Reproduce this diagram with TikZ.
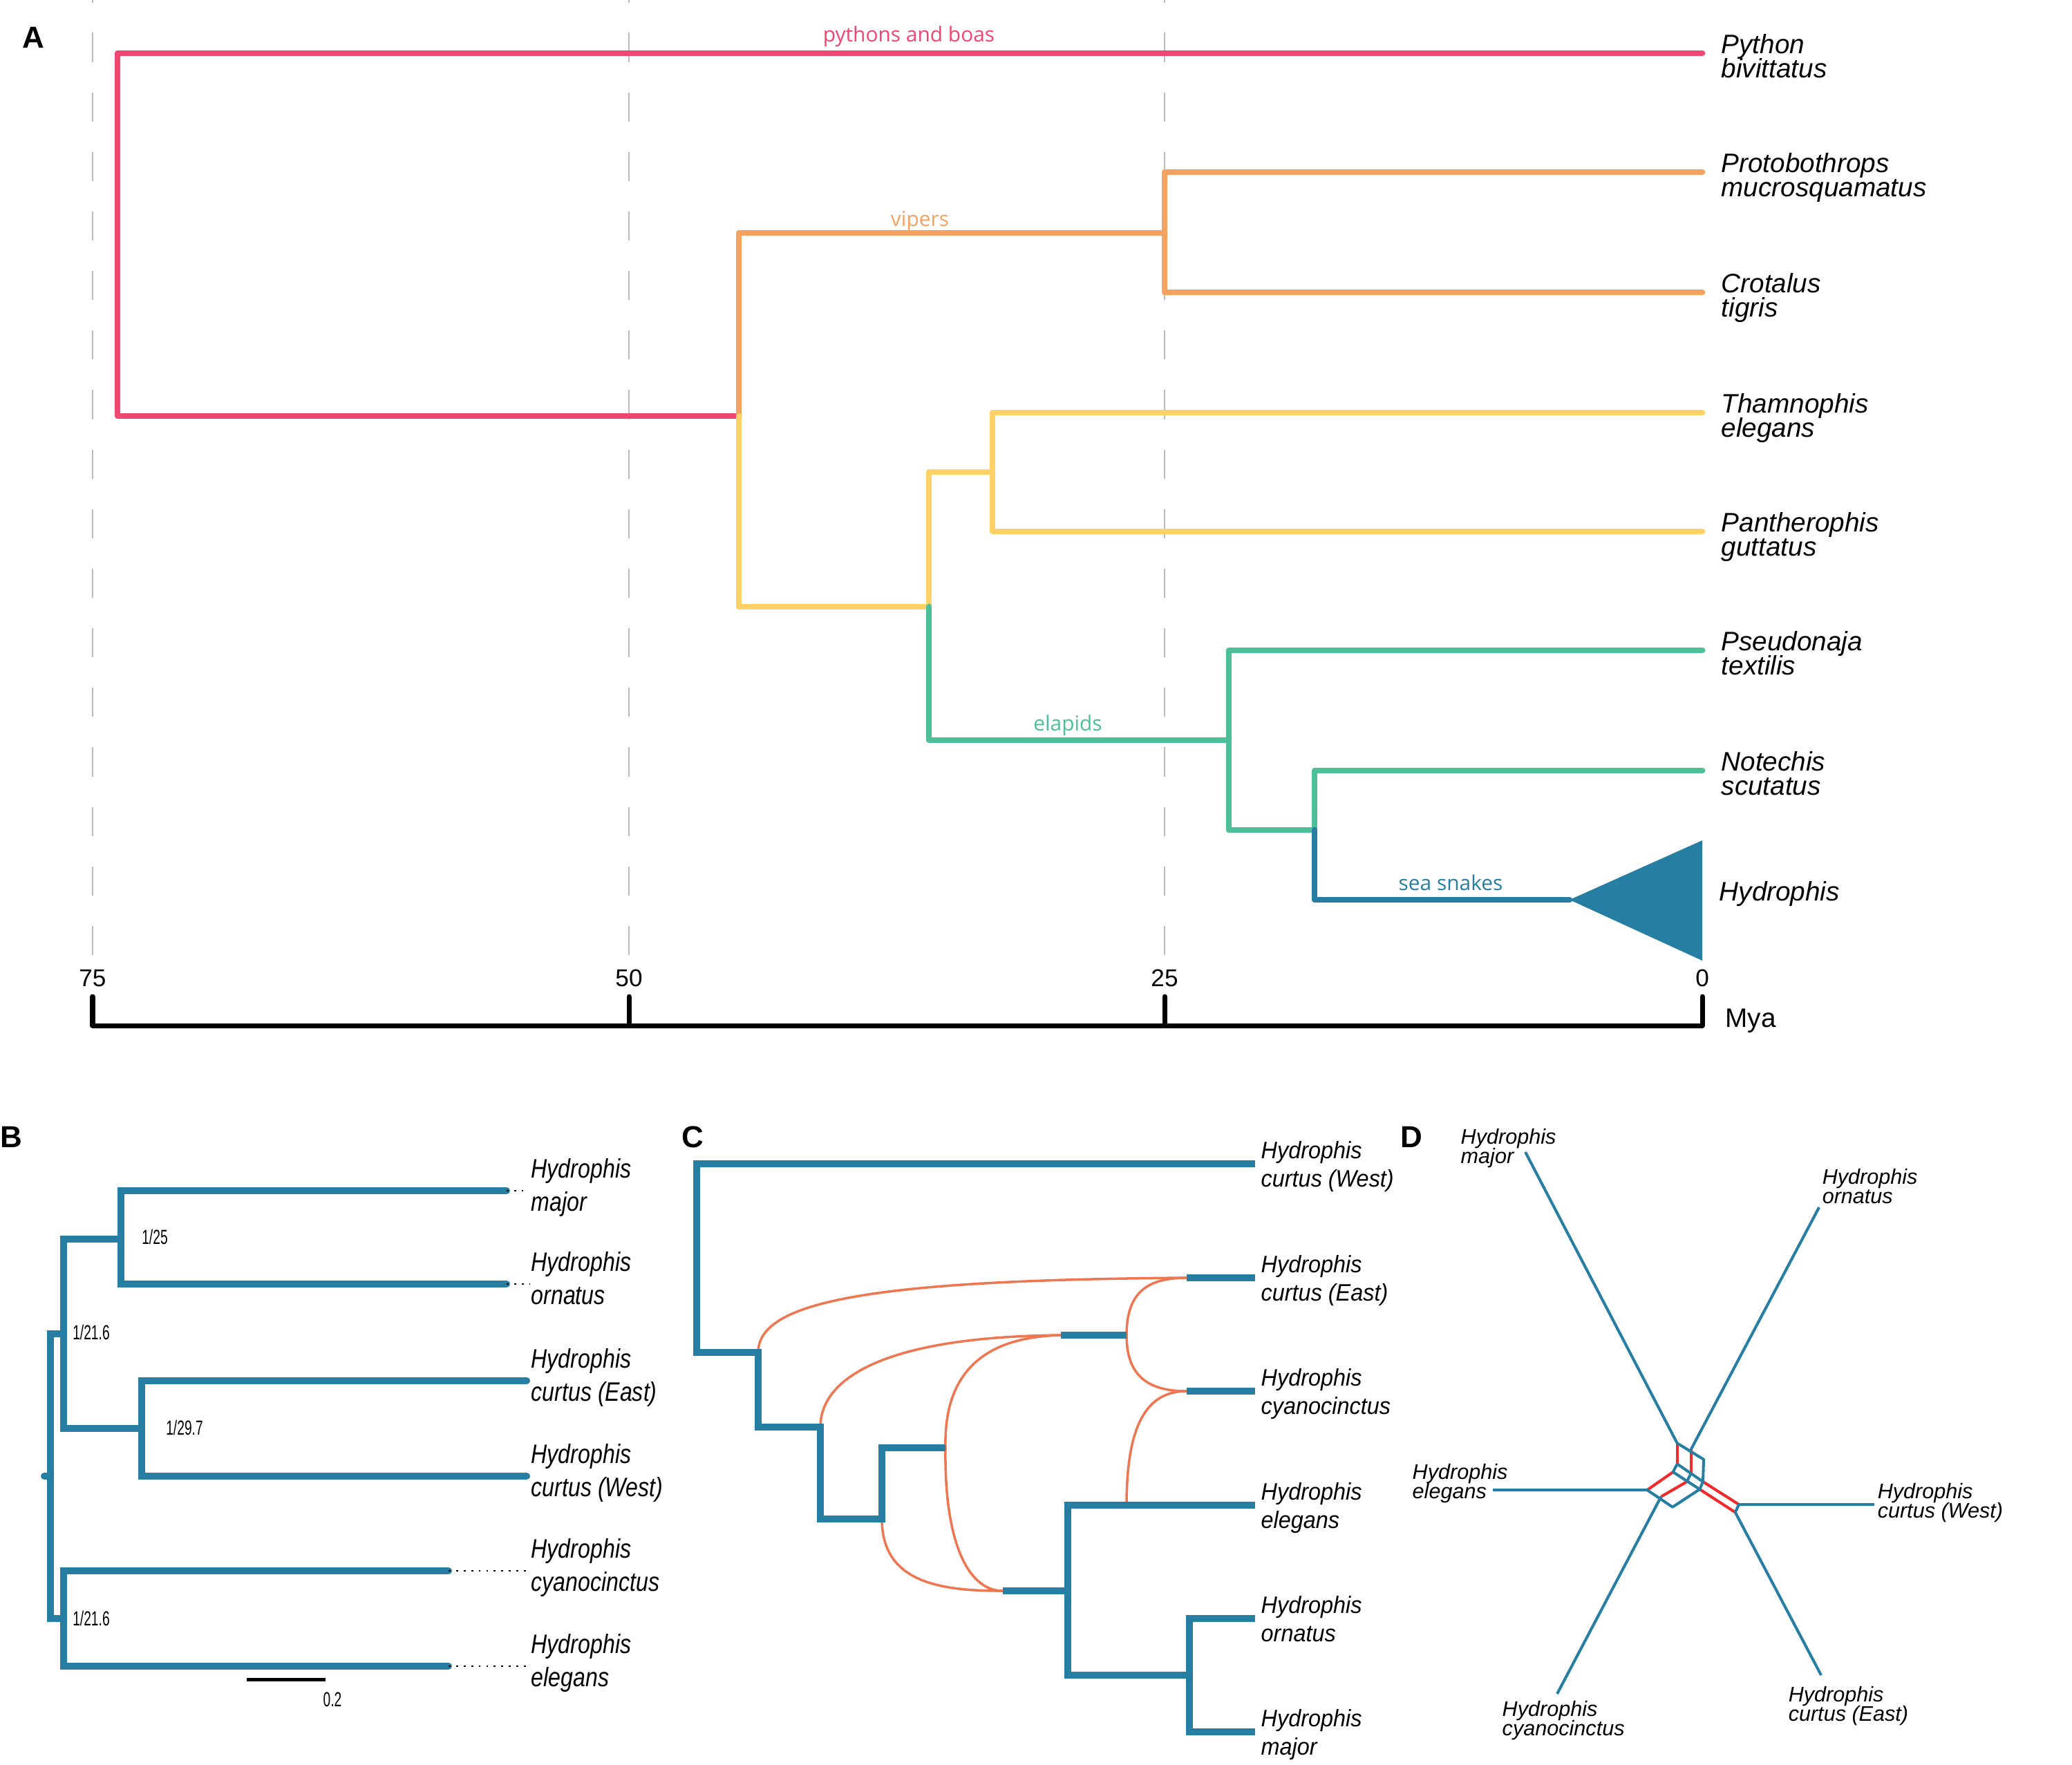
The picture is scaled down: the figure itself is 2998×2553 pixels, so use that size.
\documentclass[tikz,border=0pt]{standalone}
\usepackage{fontspec}
\setmainfont{Liberation Sans}
\newfontfamily\cladefont{Open Sans}
\newfontfamily\narrowB[FakeStretch=0.83]{Liberation Sans}
\newfontfamily\narrowC[FakeStretch=0.94]{Liberation Sans}
\newfontfamily\suppfont[FakeStretch=0.65]{Liberation Sans}
\usepackage{tikz}
\usetikzlibrary{arrows.meta}
\definecolor{pythc}{HTML}{EF476F}
\definecolor{vipc}{HTML}{F4A261}
\definecolor{colc}{HTML}{FFD166}
\definecolor{elac}{HTML}{4CBF99}
\definecolor{seac}{HTML}{267FA3}
\definecolor{retc}{HTML}{EE7752}
\definecolor{splc}{HTML}{EE2A2A}
\definecolor{gridc}{HTML}{BBBBBB}
\newcommand{\sptwo}[3]{\vtop{\baselineskip=#1\lineskiplimit=-\maxdimen\hbox{#2}\hbox{#3}}}
\tikzset{
  brA/.style={line width=2.5pt,line cap=round,line join=round},
  brB/.style={seac,line width=2.85pt,line cap=round},
  brC/.style={seac,line width=2.65pt},
  ret/.style={retc,line width=1pt},
  net/.style={seac,line width=1.15pt,line join=round},
  netsplit/.style={splc,line width=1.15pt},
  grid/.style={gridc,line width=0.8pt,dash pattern=on 12pt off 12.5pt,dash phase=11pt},
  axisline/.style={line width=2pt,line cap=round,line join=round},
  dots/.style={line width=0.5pt,dash pattern=on 0.8pt off 2.3pt},
  clade/.style={font=\cladefont\fontsize{8.5}{9}\selectfont,anchor=base,inner sep=0pt},
  spA/.style={font=\fontsize{11}{10}\selectfont\itshape,anchor=base west,inner sep=0pt},
  spB/.style={font=\narrowB\fontsize{11}{13.9}\selectfont\itshape,anchor=base west,inner sep=0pt},
  spC/.style={font=\narrowC\fontsize{9.8}{11.7}\selectfont\itshape,anchor=base west,inner sep=0pt},
  spD/.style={font=\fontsize{8.7}{8}\selectfont\itshape,anchor=base west,inner sep=0pt},
  supp/.style={font=\suppfont\fontsize{8.4}{9}\selectfont,inner sep=0pt},
  tick/.style={font=\fontsize{10}{10}\selectfont,anchor=base,inner sep=0pt},
  panel/.style={font=\bfseries\fontsize{12.5}{12.5}\selectfont,inner sep=0pt}
}
\begin{document}
\begin{tikzpicture}[x=0.01cm,y=-0.01cm]
\useasboundingbox (0,0) rectangle (2998,2553);
% A
\foreach \x in {134,910,1685} \draw[grid] (\x,0) -- (\x,1396);
\node[panel] (pA) at (48,54) {A};
\coordinate (tPy) at (2463,77); \coordinate (tPr) at (2463,249);
\coordinate (tCr) at (2463,423); \coordinate (tTh) at (2463,597);
\coordinate (tPa) at (2463,769); \coordinate (tPs) at (2463,941);
\coordinate (tNo) at (2463,1115); \coordinate (tHy) at (2271,1302);
\coordinate (hyTop) at (2463,1216); \coordinate (hyBot) at (2463,1390);
\coordinate (nRoot) at (170,602); \coordinate (nSq) at (1069,602);
\coordinate (nVipL) at (1069,337); \coordinate (nVip) at (1685,337);
\coordinate (nCol) at (1069,878); \coordinate (nColR) at (1344,878);
\coordinate (nColub) at (1436,683); \coordinate (nColubL) at (1344,683);
\coordinate (nElaL) at (1344,1071); \coordinate (nEla) at (1778,1071);
\coordinate (nNH) at (1902,1201); \coordinate (nNHb) at (1902,1302);
\draw[brA,pythc] (tPy) -| (nRoot) -- (nSq);
\draw[brA,vipc] (tPr) -| (nVip) |- (tCr);
\draw[brA,vipc] (nVip) -- (nVipL) -- (nSq);
\draw[brA,colc] (nSq) -- (nCol) -- (nColR) -- (nColubL) -- (nColub);
\draw[brA,colc] (tTh) -| (nColub) |- (tPa);
\draw[brA,elac] (nColR) -- (nElaL) -- (nEla);
\draw[brA,elac] (tPs) -| (nEla) |- (nNH) |- (tNo);
\draw[brA,seac] (nNH) -- (nNHb) -- (tHy);
\fill[seac] (tHy) -- (hyTop) -- (hyBot) -- cycle;
\node[clade,text=pythc] (cPy) at (1315,60) {pythons and boas};
\node[clade,text=vipc] (cVi) at (1331,327) {vipers};
\node[clade,text=elac] (cEl) at (1545,1057) {elapids};
\node[clade,text=seac] (cSe) at (2099,1288) {sea snakes};
\node[spA] (lPy) at (2490,77) {\sptwo{10pt}{Python}{bivittatus}};
\node[spA] (lPr) at (2490,249) {\sptwo{10pt}{Protobothrops}{mucrosquamatus}};
\node[spA] (lCr) at (2490,423) {\sptwo{10pt}{Crotalus}{tigris}};
\node[spA] (lTh) at (2490,597) {\sptwo{10pt}{Thamnophis}{elegans}};
\node[spA] (lPa) at (2490,769) {\sptwo{10pt}{Pantherophis}{guttatus}};
\node[spA] (lPs) at (2490,941) {\sptwo{10pt}{Pseudonaja}{textilis}};
\node[spA] (lNo) at (2490,1115) {\sptwo{10pt}{Notechis}{scutatus}};
\node[spA] (lHy) at (2487,1303) {Hydrophis};
\coordinate (axL) at (134,1484); \coordinate (axR) at (2463,1484);
\draw[axisline] (134,1442) -- (axL) -- (axR) -- (2463,1442);
\foreach \x in {910,1685} \draw[axisline] (\x,1442) -- (\x,1484);
\foreach \x/\t in {134/75,910/50,1685/25,2463/0} \node[tick] (tick\t) at (\x,1427) {\t};
\node[font=\fontsize{11}{11}\selectfont,anchor=base west,inner sep=0pt] (mya) at (2496,1486) {Mya};
% B
\node[panel] (pB) at (16,1645) {B};
\coordinate (bMaj) at (733,1723); \coordinate (bOrn) at (733,1858);
\coordinate (bEas) at (762,1998); \coordinate (bWes) at (762,2136);
\coordinate (bCya) at (649,2273); \coordinate (bEle) at (649,2411);
\coordinate (bN2) at (92,1930); \coordinate (bN3) at (175,1793);
\coordinate (bN4) at (205,2067); \coordinate (bN5) at (92,2342);
\coordinate (bRoot) at (73,2136); \coordinate (bStub) at (64,2136);
\draw[brB] (bMaj) -| (bN3) |- (bOrn);
\draw[brB] (bEas) -| (bN4) |- (bWes);
\draw[brB] (bN3) -| (bN2) |- (bN4);
\draw[brB] (bCya) -| (bN5) |- (bEle);
\draw[brB] (bN2) -| (bRoot) |- (bN5);
\draw[brB] (bStub) -- (bRoot);
\coordinate (bMajD) at (757,1723); \coordinate (bOrnD) at (766,1858);
\coordinate (bCyaD) at (762,2273); \coordinate (bEleD) at (762,2411);
\draw[dots] (bMaj) -- (bMajD); \draw[dots] (bOrn) -- (bOrnD);
\draw[dots] (bCya) -- (bCyaD); \draw[dots] (bEle) -- (bEleD);
\node[supp] (s1) at (224,1790) {1/25};
\node[supp] (s2) at (132,1928) {1/21.6};
\node[supp] (s3) at (267,2066) {1/29.7};
\node[supp] (s4) at (132,2342) {1/21.6};
\coordinate (sb1) at (357,2430); \coordinate (sb2) at (471,2430);
\draw[line width=1.4pt] (sb1) -- (sb2);
\node[supp] (sbl) at (481,2459) {0.2};
\node[spB] (lbMaj) at (768,1704) {\sptwo{13.9pt}{Hydrophis}{major}};
\node[spB] (lbOrn) at (768,1839) {\sptwo{13.9pt}{Hydrophis}{ornatus}};
\node[spB] (lbEas) at (768,1979) {\sptwo{13.9pt}{Hydrophis}{curtus (East)}};
\node[spB] (lbWes) at (768,2117) {\sptwo{13.9pt}{Hydrophis}{curtus (West)}};
\node[spB] (lbCya) at (768,2254) {\sptwo{13.9pt}{Hydrophis}{cyanocinctus}};
\node[spB] (lbEle) at (768,2392) {\sptwo{13.9pt}{Hydrophis}{elegans}};
% C
\node[panel] (pC) at (1002,1645) {C};
\coordinate (cWes) at (1816,1684); \coordinate (cR) at (1008,1957);
\coordinate (cN1) at (1097,1957); \coordinate (cN2) at (1187,2065);
\coordinate (cN3) at (1276,2198); \coordinate (cH1) at (1368,2095);
\coordinate (cL) at (1451,2302); \coordinate (cLn) at (1545,2302);
\coordinate (cEle) at (1816,2178); \coordinate (cN6) at (1721,2424);
\coordinate (cOrn) at (1816,2342); \coordinate (cMaj) at (1816,2506);
\coordinate (cEasS) at (1717,1849); \coordinate (cEas) at (1816,1849);
\coordinate (cCyaS) at (1717,2013); \coordinate (cCya) at (1816,2013);
\coordinate (cMidL) at (1535,1932); \coordinate (cMidR) at (1630,1932);
\coordinate (cEleR) at (1630,2178);
\draw[ret] (cN1) .. controls (1097,1885) and (1250,1852) .. (cEasS);
\draw[ret] (cN2) .. controls (1187,1990) and (1290,1934) .. (cMidL);
\draw[ret] (cMidL) .. controls (1400,1935) and (1366,2010) .. (cH1) .. controls (1366,2230) and (1400,2302) .. (cL);
\draw[ret] (cN3) .. controls (1276,2290) and (1360,2302) .. (cL);
\draw[ret] (cMidR) .. controls (1630,1870) and (1660,1849) .. (cEasS);
\draw[ret] (cMidR) .. controls (1630,1990) and (1660,2013) .. (cCyaS);
\draw[ret] (cEleR) .. controls (1630,2060) and (1660,2013) .. (cCyaS);
\draw[brC] (cWes) -| (cR) -- (cN1) |- (cN2) |- (cN3) |- (cH1);
\draw[brC] (cL) -- (cLn);
\draw[brC] (cEle) -| (cLn) |- (cN6);
\draw[brC] (cOrn) -| (cN6) |- (cMaj);
\draw[brC] (cEasS) -- (cEas);
\draw[brC] (cCyaS) -- (cCya);
\draw[brC] (cMidL) -- (cMidR);
\node[spC] (lcWes) at (1824,1676) {\sptwo{11.7pt}{Hydrophis}{curtus (West)}};
\node[spC] (lcEas) at (1824,1841) {\sptwo{11.7pt}{Hydrophis}{curtus (East)}};
\node[spC] (lcCya) at (1824,2005) {\sptwo{11.7pt}{Hydrophis}{cyanocinctus}};
\node[spC] (lcEle) at (1824,2170) {\sptwo{11.7pt}{Hydrophis}{elegans}};
\node[spC] (lcOrn) at (1824,2334) {\sptwo{11.7pt}{Hydrophis}{ornatus}};
\node[spC] (lcMaj) at (1824,2498) {\sptwo{11.7pt}{Hydrophis}{major}};
% D
\node[panel] (pD) at (2042,1645) {D};
\coordinate (d1) at (2426.7,2088.3); \coordinate (d2) at (2446.7,2097.3);
\coordinate (d3) at (2465,2111.7); \coordinate (d4) at (2464,2144);
\coordinate (d5) at (2426.7,2118.3); \coordinate (d6) at (2420.7,2130);
\coordinate (d7) at (2459.3,2155); \coordinate (d8) at (2420,2180.7);
\coordinate (d9) at (2383.3,2156); \coordinate (d10) at (2446.7,2131.7);
\coordinate (d11) at (2440.7,2144); \coordinate (d12) at (2403.3,2165.7);
\coordinate (d13) at (2516,2177); \coordinate (d14) at (2510.7,2188.3);
\coordinate (dMaj) at (2207,1667); \coordinate (dOrn) at (2632,1747);
\coordinate (dEle) at (2160,2156); \coordinate (dWes) at (2712,2177);
\coordinate (dEas) at (2635,2424); \coordinate (dCya) at (2253,2451);
\draw[netsplit] (d1) -- (d5); \draw[netsplit] (d2) -- (d10);
\draw[netsplit] (d9) -- (d6); \draw[netsplit] (d12) -- (d11);
\draw[netsplit] (d4) -- (d13); \draw[netsplit] (d7) -- (d14);
\draw[net] (dMaj) -- (d1) -- (d3) -- (d4) -- (d7) -- (d8) -- (d9) -- (dEle);
\draw[net] (dOrn) -- (d2);
\draw[net] (d5) -- (d4);
\draw[net] (d5) -- (d6) -- (d7);
\draw[net] (d10) -- (d11);
\draw[net] (dWes) -- (d13) -- (d14) -- (dEas);
\draw[net] (d12) -- (dCya);
\node[spD] (ldMaj) at (2113,1655) {\sptwo{8pt}{Hydrophis}{major}};
\node[spD] (ldOrn) at (2636,1713) {\sptwo{8pt}{Hydrophis}{ornatus}};
\node[spD] (ldEle) at (2043,2140) {\sptwo{8pt}{Hydrophis}{elegans}};
\node[spD] (ldWes) at (2716,2168) {\sptwo{8pt}{Hydrophis}{curtus (West)}};
\node[spD] (ldEas) at (2587,2462) {\sptwo{8pt}{Hydrophis}{curtus (East)}};
\node[spD] (ldCya) at (2173,2483) {\sptwo{8pt}{Hydrophis}{cyanocinctus}};
\end{tikzpicture}
\end{document}
